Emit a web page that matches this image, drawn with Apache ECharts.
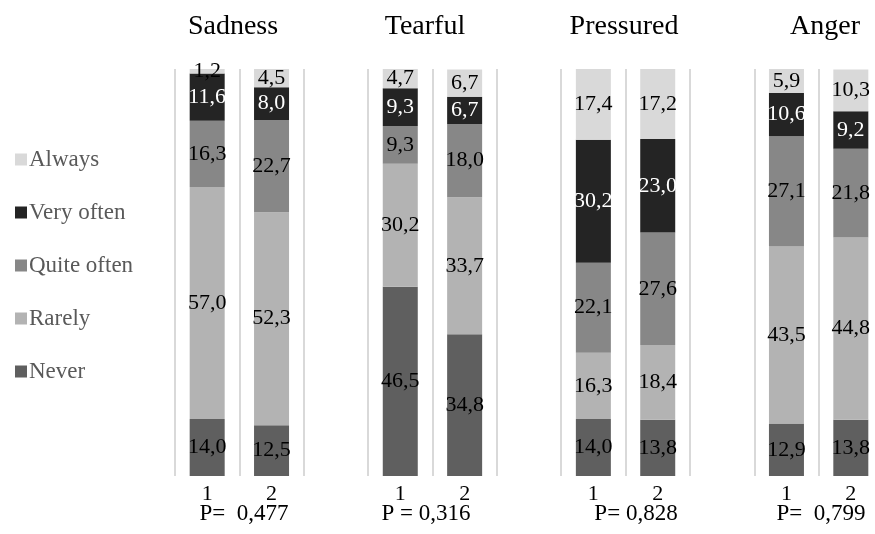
<!DOCTYPE html>
<html>
<head>
<meta charset="utf-8">
<script src="https://cdn.jsdelivr.net/npm/echarts@6/dist/echarts.min.js"></script>
<style>
  html, body { margin: 0; padding: 0; background: #fff; }
  #chart { width: 875px; height: 534px; }
</style>
</head>
<body>
<div id="chart"></div>
<script>
// Emotions measured in two groups; each bar is a 100 % stack of answer frequencies.
const panels = ['Sadness', 'Tearful', 'Pressured', 'Anger'];
const groups = ['1', '2'];
const pValues = ['P=  0,477', 'P = 0,316', 'P= 0,828', 'P=  0,799'];

// Percentages per answer, in bar order: Sadness 1,2 | Tearful 1,2 | Pressured 1,2 | Anger 1,2
const never      = [14.0, 12.5, 46.5, 34.8, 14.0, 13.8, 12.9, 13.8];
const rarely     = [57.0, 52.3, 30.2, 33.7, 16.3, 18.4, 43.5, 44.8];
const quiteOften = [16.3, 22.7, 9.3, 18.0, 22.1, 27.6, 27.1, 21.8];
const veryOften  = [11.6, 8.0, 9.3, 6.7, 30.2, 23.0, 10.6, 9.2];
const always     = [1.2, 4.5, 4.7, 6.7, 17.4, 17.2, 5.9, 10.3];

// Category slots: two bars per panel followed by an empty spacer slot
const categories = [];
panels.forEach((p, i) => {
  groups.forEach(g => categories.push(g));
  if (i < panels.length - 1) categories.push('');
});

function toSlots(values) {
  const out = [];
  panels.forEach((p, i) => {
    out.push(values[2 * i], values[2 * i + 1]);
    if (i < panels.length - 1) out.push('-');
  });
  return out;
}

const SERIF = '"Liberation Serif", "DejaVu Serif", serif';

const levels = [
  { name: 'Never',       data: never,      color: '#5f5f5f', text: '#000' },
  { name: 'Rarely',      data: rarely,     color: '#b3b3b3', text: '#000' },
  { name: 'Quite often', data: quiteOften, color: '#878787', text: '#000' },
  { name: 'Very often',  data: veryOften,  color: '#242424', text: '#fff' },
  { name: 'Always',      data: always,     color: '#d9d9d9', text: '#000' }
];

const chart = echarts.init(document.getElementById('chart'));

// Panel headings above and significance notes below each pair of bars
const graphics = [];
const titleX = [233, 425, 624, 825];
const pX = [244, 426, 636, 821];
panels.forEach((name, i) => {
  graphics.push({
    type: 'text', x: titleX[i], y: 27,
    style: { text: name, fontFamily: SERIF, fontSize: 28, fill: '#000',
             align: 'center', verticalAlign: 'middle', textAlign: 'center', textVerticalAlign: 'middle' }
  });
  graphics.push({
    type: 'text', x: pX[i], y: 514,
    style: { text: pValues[i], fontFamily: SERIF, fontSize: 23, fill: '#000',
             align: 'center', verticalAlign: 'middle', textAlign: 'center', textVerticalAlign: 'middle' }
  });
});

chart.setOption({
  animation: false,
  backgroundColor: '#fff',
  // eleven slots of ~64.4 px; the plot runs a little past the right edge of the page
  grid: { left: 175, width: 708, top: 69, height: 407, containLabel: false, outerBoundsMode: 'none' },
  legend: {
    orient: 'vertical',
    left: 10,
    top: 143,
    data: ['Always', 'Very often', 'Quite often', 'Rarely', 'Never'],
    icon: 'rect',
    itemWidth: 12,
    itemHeight: 12,
    itemGap: 30,
    textStyle: { fontFamily: SERIF, fontSize: 23, color: '#595959', lineHeight: 23, padding: [0, 0, 0, -3] }
  },
  xAxis: {
    type: 'category',
    data: categories,
    axisLine: { show: false },
    axisTick: { show: false },
    splitLine: { show: true, interval: 0, lineStyle: { color: '#d9d9d9', width: 2 } },
    axisLabel: { interval: 0, margin: 7, fontFamily: SERIF, fontSize: 22, color: '#000' }
  },
  yAxis: {
    type: 'value', min: 0, max: 100, show: false,
    splitLine: { show: false }
  },
  graphic: graphics,
  series: levels.map(l => ({
    name: l.name,
    type: 'bar',
    stack: 'total',
    barWidth: 35,
    data: toSlots(l.data),
    itemStyle: { color: l.color },
    label: {
      show: true,
      position: 'inside',
      fontFamily: SERIF,
      fontSize: 22,
      color: l.text,
      textBorderWidth: 0,
      formatter: p => p.value.toFixed(1).replace('.', ',')
    }
  }))
});
</script>
</body>
</html>
